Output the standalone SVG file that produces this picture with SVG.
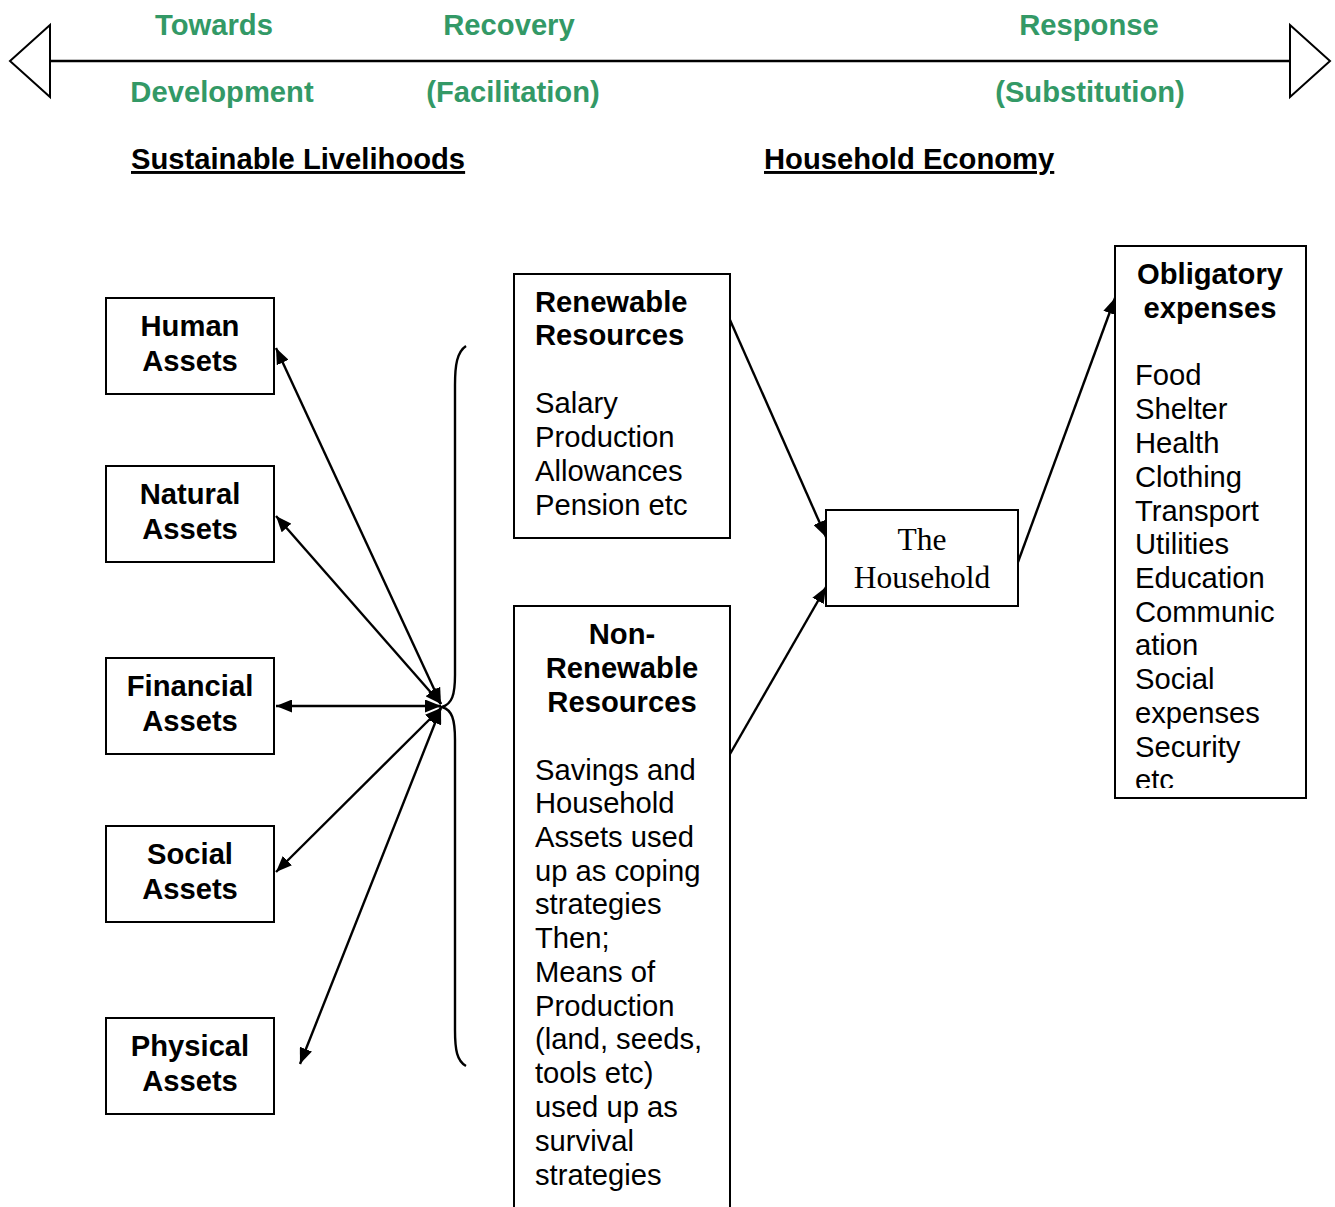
<svg xmlns="http://www.w3.org/2000/svg" width="1335" height="1207" viewBox="0 0 1335 1207">
<style>
.g{font-family:"Liberation Sans",Arial,sans-serif;font-weight:bold;font-size:29.2px;fill:#339966;text-anchor:middle}
.h{font-family:"Liberation Sans",Arial,sans-serif;font-weight:bold;font-size:29.2px;fill:#000;text-decoration:underline}
.b{font-family:"Liberation Sans",Arial,sans-serif;font-weight:bold;font-size:29.2px;fill:#000}
.r{font-family:"Liberation Sans",Arial,sans-serif;font-size:29.2px;fill:#000}
.s{font-family:"Liberation Serif","Times New Roman",serif;font-size:31.5px;fill:#000;text-anchor:middle}
.c{text-anchor:middle}
.box{fill:#fff;stroke:#000;stroke-width:2}
.ln{fill:none;stroke:#000;stroke-width:2.4}
</style>
<defs>
<marker id="ah" markerUnits="userSpaceOnUse" markerWidth="17" markerHeight="13" refX="16" refY="6.5" orient="auto-start-reverse">
<path d="M0,0 L16,6.5 L0,13 z" fill="#000"/>
</marker>
<clipPath id="obclip"><rect x="1115" y="246" width="192" height="542"/></clipPath>
</defs>
<rect width="1335" height="1207" fill="#fff"/>

<g id="timeline">
<line x1="50" y1="61" x2="1290" y2="61" class="ln"/>
<polygon points="50,25 10,61 50,97" fill="none" stroke="#000" stroke-width="2"/>
<polygon points="1290,25 1330,61 1290,97" fill="none" stroke="#000" stroke-width="2"/>
<text class="g" x="214" y="35">Towards</text>
<text class="g" x="509" y="35">Recovery</text>
<text class="g" x="1089" y="35">Response</text>
<text class="g" x="222" y="102">Development</text>
<text class="g" x="513" y="102">(Facilitation)</text>
<text class="g" x="1090" y="102">(Substitution)</text>
</g>

<g id="headings">
<text class="h" x="131" y="169">Sustainable Livelihoods</text>
<text class="h" x="764" y="169">Household Economy</text>
</g>

<g id="brace">
<path class="ln" d="M466,346 C457,352 455,365 455,385 L455,675 C455,695 452,704 442,707 C452,710 455,719 455,740 L455,1030 C455,1050 457,1061 466,1066" stroke-width="2"/>
</g>

<g id="human-assets">
<rect class="box" x="106" y="298" width="168" height="96"/>
<text class="b c" x="190" y="336">Human</text>
<text class="b c" x="190" y="371">Assets</text>
</g>
<g id="natural-assets">
<rect class="box" x="106" y="466" width="168" height="96"/>
<text class="b c" x="190" y="504">Natural</text>
<text class="b c" x="190" y="539">Assets</text>
</g>
<g id="financial-assets">
<rect class="box" x="106" y="658" width="168" height="96"/>
<text class="b c" x="190" y="696">Financial</text>
<text class="b c" x="190" y="731">Assets</text>
</g>
<g id="social-assets">
<rect class="box" x="106" y="826" width="168" height="96"/>
<text class="b c" x="190" y="864">Social</text>
<text class="b c" x="190" y="899">Assets</text>
</g>
<g id="physical-assets">
<rect class="box" x="106" y="1018" width="168" height="96"/>
<text class="b c" x="190" y="1056">Physical</text>
<text class="b c" x="190" y="1091">Assets</text>
</g>

<g id="renewable-resources">
<rect class="box" x="514" y="274" width="216" height="264"/>
<text class="b" x="535" y="312">Renewable</text>
<text class="b" x="535" y="345">Resources</text>
<text class="r" x="535" y="413">Salary</text>
<text class="r" x="535" y="447">Production</text>
<text class="r" x="535" y="481">Allowances</text>
<text class="r" x="535" y="515">Pension etc</text>
</g>

<g id="non-renewable-resources">
<path d="M514,1210 L514,606 L730,606 L730,1210" fill="#fff" stroke="#000" stroke-width="2"/>
<text class="b c" x="622" y="644">Non-</text>
<text class="b c" x="622" y="678">Renewable</text>
<text class="b c" x="622" y="712">Resources</text>
<text class="r" x="535" y="780">Savings and</text>
<text class="r" x="535" y="813">Household</text>
<text class="r" x="535" y="847">Assets used</text>
<text class="r" x="535" y="881">up as coping</text>
<text class="r" x="535" y="914">strategies</text>
<text class="r" x="535" y="948">Then;</text>
<text class="r" x="535" y="982">Means of</text>
<text class="r" x="535" y="1016">Production</text>
<text class="r" x="535" y="1049">(land, seeds,</text>
<text class="r" x="535" y="1083">tools etc)</text>
<text class="r" x="535" y="1117">used up as</text>
<text class="r" x="535" y="1151">survival</text>
<text class="r" x="535" y="1185">strategies</text>
</g>

<g id="the-household">
<rect class="box" x="826" y="510" width="192" height="96"/>
<text class="s" x="922" y="550">The</text>
<text class="s" x="922" y="588">Household</text>
</g>

<g id="obligatory-expenses">
<rect class="box" x="1115" y="246" width="191" height="552"/>
<text class="b c" x="1210" y="284">Obligatory</text>
<text class="b c" x="1210" y="318">expenses</text>
<g clip-path="url(#obclip)">
<text class="r" x="1135" y="385">Food</text>
<text class="r" x="1135" y="419">Shelter</text>
<text class="r" x="1135" y="453">Health</text>
<text class="r" x="1135" y="487">Clothing</text>
<text class="r" x="1135" y="521">Transport</text>
<text class="r" x="1135" y="554">Utilities</text>
<text class="r" x="1135" y="588">Education</text>
<text class="r" x="1135" y="622">Communic</text>
<text class="r" x="1135" y="655">ation</text>
<text class="r" x="1135" y="689">Social</text>
<text class="r" x="1135" y="723">expenses</text>
<text class="r" x="1135" y="757">Security</text>
<text class="r" x="1135" y="790">etc</text>
</g>
</g>

<g id="connectors">
<line class="ln" x1="441" y1="704" x2="276" y2="348" marker-start="url(#ah)" marker-end="url(#ah)"/>
<line class="ln" x1="441" y1="704" x2="276" y2="516" marker-start="url(#ah)" marker-end="url(#ah)"/>
<line class="ln" x1="441" y1="706" x2="276" y2="706" marker-start="url(#ah)" marker-end="url(#ah)"/>
<line class="ln" x1="441" y1="708" x2="276" y2="872" marker-start="url(#ah)" marker-end="url(#ah)"/>
<line class="ln" x1="441" y1="708" x2="300" y2="1064" marker-start="url(#ah)" marker-end="url(#ah)"/>
<line class="ln" x1="730" y1="320" x2="826" y2="537" marker-end="url(#ah)"/>
<line class="ln" x1="730" y1="754" x2="826" y2="587" marker-end="url(#ah)"/>
<line class="ln" x1="1018" y1="562" x2="1115" y2="298" marker-end="url(#ah)"/>
</g>
</svg>
